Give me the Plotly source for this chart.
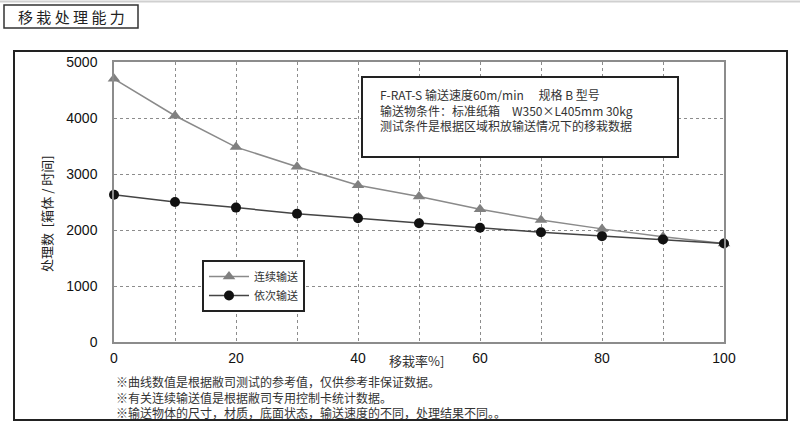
import plotly.graph_objects as go

transfer_rate = [0, 10, 20, 30, 40, 50, 60, 70, 80, 90, 100]
continuous = [4700, 4040, 3480, 3130, 2800, 2600, 2370, 2180, 2020, 1880, 1760]
sequential = [2630, 2500, 2400, 2290, 2210, 2120, 2040, 1960, 1890, 1830, 1760]
series_names = ["连续输送", "依次输送"]
x_ticks = [0, 20, 40, 60, 80, 100]
y_ticks = [0, 1000, 2000, 3000, 4000, 5000]

W, H = 800, 424
L, R, T, B = 114, 724, 62, 342


def px(x):
    return (x - L) / (R - L)


def py(y):
    return (B - y) / (B - T)


font_cjk = "Noto Sans CJK SC, Noto Sans CJK JP, sans-serif"
font_num = "Liberation Sans, Arial, sans-serif"

fig = go.Figure()
fig.add_trace(go.Scatter(
    x=transfer_rate, y=continuous, name=series_names[0], mode="lines+markers",
    line=dict(color="#8a8a8a", width=1.5),
    marker=dict(symbol="triangle-up", size=11, color="#808080"),
    cliponaxis=False,
))
fig.add_trace(go.Scatter(
    x=transfer_rate, y=sequential, name=series_names[1], mode="lines+markers",
    line=dict(color="#444444", width=1.5),
    marker=dict(symbol="circle", size=10, color="#111111"),
    cliponaxis=False,
))

grid = dict(showgrid=True, gridcolor="#8c8c8c", gridwidth=1, griddash="dot")
fig.update_xaxes(
    range=[0, 100], tickvals=x_ticks, ticks="", zeroline=False,
    showline=True, linecolor="#8c8c8c", linewidth=1.5, mirror=True,
    minor=dict(dtick=10, showgrid=True, gridcolor="#8c8c8c", griddash="dot", gridwidth=1),
    tickfont=dict(family=font_num, size=14, color="#111"),
    ticklabelstandoff=2,
    **grid,
)
fig.update_yaxes(
    range=[0, 5000], tickvals=y_ticks, ticks="", zeroline=False,
    showline=True, linecolor="#8c8c8c", linewidth=1.5, mirror=True,
    tickfont=dict(family=font_num, size=14, color="#111"),
    ticklabelstandoff=12,
    **grid,
)

shapes = [
    dict(type="line", xref="paper", yref="paper", x0=px(0), x1=px(W), y0=py(1.5), y1=py(1.5),
         line=dict(color="#d0d0d0", width=2)),
    dict(type="rect", xref="paper", yref="paper", x0=px(14), x1=px(787), y0=py(420), y1=py(51),
         line=dict(color="#222", width=2), layer="below"),
    dict(type="rect", xref="paper", yref="paper", x0=px(4), x1=px(138), y0=py(28), y1=py(5),
         line=dict(color="#333", width=1.5)),
    dict(type="rect", xref="paper", yref="paper", x0=px(362), x1=px(678), y0=py(157), y1=py(77),
         line=dict(color="#222", width=2), fillcolor="white", layer="above"),
]


def note(text, x, y, size, color="#333", anchor="left", angle=0, align="left"):
    return dict(text=text, x=px(x), y=py(y), xref="paper", yref="paper",
                showarrow=False, textangle=angle, align=align,
                font=dict(family=font_cjk, size=size, color=color),
                xanchor=anchor, yanchor="middle")


info_lines = [
    "F-RAT-S 输送速度60m/min　 规格 B 型号",
    "输送物条件：标准纸箱　W350×L405mm 30kg",
    "测试条件是根据区域积放输送情况下的移栽数据",
]
footnotes = [
    "※曲线数值是根据敝司测试的参考值，仅供参考非保证数据。",
    "※有关连续输送值是根据敝司专用控制卡统计数据。",
    "※输送物体的尺寸，材质，底面状态，输送速度的不同，处理结果不同。。",
]

annotations = [
    note("移 栽 处 理 能 力", 71, 16.5, 15, "#222", "center"),
    note("处理数  [箱体 / 时间]", 46, 214, 13, "#222", "center", -90),
    note("移栽率%]", 416, 360, 13, "#333", "center"),
    note("<br>".join(info_lines), 378, 110, 12),
    note("<br>".join(footnotes), 114, 397, 12),
]

fig.update_layout(
    width=W, height=H,
    margin=dict(l=L, r=W - R, t=T, b=H - B),
    paper_bgcolor="white", plot_bgcolor="white",
    showlegend=True,
    legend=dict(
        x=px(202), y=py(260), xanchor="left", yanchor="top",
        bgcolor="white", bordercolor="#222", borderwidth=2,
        font=dict(family=font_cjk, size=11, color="#333"),
        tracegroupgap=0, itemwidth=40,
    ),
    shapes=shapes,
    annotations=annotations,
)

fig.write_html("out.html", post_script="document.body.style.margin='0';",
               config={"displayModeBar": False})
